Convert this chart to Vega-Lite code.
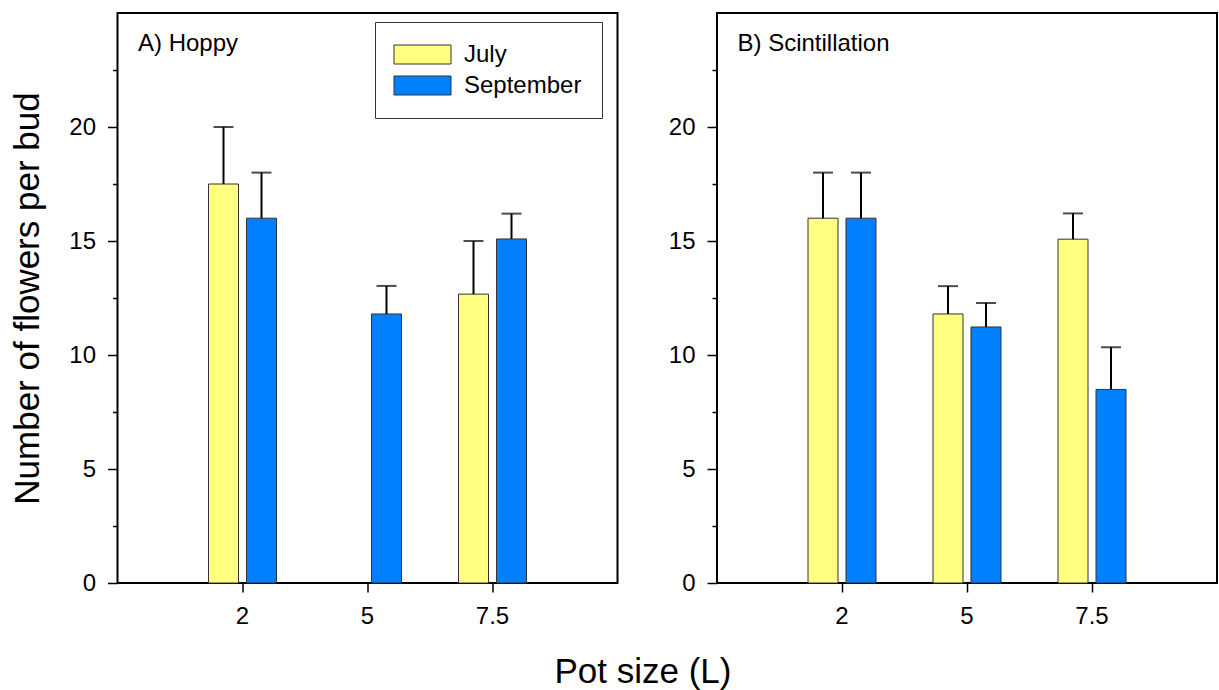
{
  "$schema": "https://vega.github.io/schema/vega-lite/v6.json",
  "background": "white",
  "padding": {"left": 9.5, "top": 12, "right": 3, "bottom": 5},
  "data": {"values": [
    {"cultivar": "Hoppy", "pot": "2", "month": "July", "value": 17.5, "upper": 20.0},
    {"cultivar": "Hoppy", "pot": "2", "month": "September", "value": 16.0, "upper": 18.0},
    {"cultivar": "Hoppy", "pot": "5", "month": "September", "value": 11.8, "upper": 13.03},
    {"cultivar": "Hoppy", "pot": "7.5", "month": "July", "value": 12.67, "upper": 15.0},
    {"cultivar": "Hoppy", "pot": "7.5", "month": "September", "value": 15.09, "upper": 16.2},
    {"cultivar": "Scintillation", "pot": "2", "month": "July", "value": 16.0, "upper": 18.0},
    {"cultivar": "Scintillation", "pot": "2", "month": "September", "value": 16.0, "upper": 18.0},
    {"cultivar": "Scintillation", "pot": "5", "month": "July", "value": 11.8, "upper": 13.02},
    {"cultivar": "Scintillation", "pot": "5", "month": "September", "value": 11.23, "upper": 12.28},
    {"cultivar": "Scintillation", "pot": "7.5", "month": "July", "value": 15.08, "upper": 16.21},
    {"cultivar": "Scintillation", "pot": "7.5", "month": "September", "value": 8.49, "upper": 10.34}
  ]},
  "bounds": "flush",
  "spacing": 99.5,
  "resolve": {"legend": {"color": "independent"}},
  "title": {"text": "Pot size (L)", "orient": "bottom", "anchor": "middle", "fontSize": 35, "fontWeight": "normal", "color": "black", "offset": 26, "dx": 29},
  "hconcat": [
    {
      "width": 500,
      "height": 570,
      "title": {"text": "A) Hoppy", "anchor": "start", "frame": "group", "orient": "top", "offset": 0, "dx": 20.5, "dy": 62, "baseline": "alphabetic", "fontSize": 24, "fontWeight": "normal", "color": "black"},
      "transform": [{"filter": "datum.cultivar === 'Hoppy'"}],
      "resolve": {"axis": {"y": "independent"}},
      "encoding": {
        "x": {"field": "pot", "type": "nominal", "sort": ["2", "5", "7.5"], "title": null,
              "scale": {"paddingInner": 0.456, "paddingOuter": 0.728},
              "axis": {"labelAngle": 0, "labelFontSize": 24, "labelColor": "black", "tickSize": 9, "tickWidth": 1.5, "tickColor": "black", "domain": false, "labelPadding": 12}},
        "xOffset": {"field": "month", "type": "nominal", "sort": ["July", "September"], "scale": {"paddingInner": 0.2105, "paddingOuter": 0}}
      },
      "layer": [
        {
          "mark": {"type": "bar", "stroke": "#333333", "strokeWidth": 1},
          "encoding": {
            "y": {"field": "value", "type": "quantitative", "scale": {"domain": [0, 25], "nice": false},
                  "title": "Number of flowers per bud",
                  "axis": {"orient": "left", "values": [0, 5, 10, 15, 20], "tickSize": 10,
                           "tickWidth": 1.5, "tickColor": "black", "grid": false, "domain": false, "labelFontSize": 24, "labelColor": "black", "labelPadding": 12,
                           "titleFontSize": 35, "titleFontWeight": "normal", "titleColor": "black", "titlePadding": 23}},
            "color": {"field": "month", "type": "nominal", "scale": {"domain": ["July", "September"], "range": ["#FFFF80", "#0080FF"]},
                      "legend": {"title": null, "orient": "none", "legendX": 257.5, "legendY": 9, "padding": 20.5, "strokeColor": "#333333", "fillColor": "white",
                                 "symbolType": "M-3,-1H3V1H-3Z", "symbolSize": 361, "symbolOffset": 15, "symbolStrokeColor": "#333333", "symbolStrokeWidth": 1,
                                 "labelFontSize": 24, "labelColor": "black", "labelOffset": 29.5, "rowPadding": 7}}
          }
        },
        {
          "mark": {"type": "rule", "strokeWidth": 2, "color": "black"},
          "encoding": {"y": {"field": "value", "type": "quantitative", "axis": {"orient": "left", "values": [2.5, 7.5, 12.5, 17.5, 22.5], "labels": false, "tickSize": 5, "tickWidth": 1.5, "tickColor": "black", "grid": false, "domain": false, "title": null}}, "y2": {"field": "upper"}}
        },
        {
          "mark": {"type": "tick", "orient": "horizontal", "size": 20, "thickness": 2, "color": "black"},
          "encoding": {"y": {"field": "upper", "type": "quantitative", "axis": null}}
        }
      ]
    },
    {
      "width": 500,
      "height": 570,
      "title": {"text": "B) Scintillation", "anchor": "start", "frame": "group", "orient": "top", "offset": 0, "dx": 20.5, "dy": 62, "baseline": "alphabetic", "fontSize": 24, "fontWeight": "normal", "color": "black"},
      "transform": [{"filter": "datum.cultivar === 'Scintillation'"}],
      "resolve": {"axis": {"y": "independent"}},
      "encoding": {
        "x": {"field": "pot", "type": "nominal", "sort": ["2", "5", "7.5"], "title": null,
              "scale": {"paddingInner": 0.456, "paddingOuter": 0.728},
              "axis": {"labelAngle": 0, "labelFontSize": 24, "labelColor": "black", "tickSize": 9, "tickWidth": 1.5, "tickColor": "black", "domain": false, "labelPadding": 12}},
        "xOffset": {"field": "month", "type": "nominal", "sort": ["July", "September"], "scale": {"paddingInner": 0.2105, "paddingOuter": 0}}
      },
      "layer": [
        {
          "mark": {"type": "bar", "stroke": "#333333", "strokeWidth": 1},
          "encoding": {
            "y": {"field": "value", "type": "quantitative", "scale": {"domain": [0, 25], "nice": false},
                  "title": null,
                  "axis": {"orient": "left", "values": [0, 5, 10, 15, 20], "tickSize": 10,
                           "tickWidth": 1.5, "tickColor": "black", "grid": false, "domain": false, "labelFontSize": 24, "labelColor": "black", "labelPadding": 12}},
            "color": {"field": "month", "type": "nominal", "scale": {"domain": ["July", "September"], "range": ["#FFFF80", "#0080FF"]}, "legend": null}
          }
        },
        {
          "mark": {"type": "rule", "strokeWidth": 2, "color": "black"},
          "encoding": {"y": {"field": "value", "type": "quantitative", "axis": {"orient": "left", "values": [2.5, 7.5, 12.5, 17.5, 22.5], "labels": false, "tickSize": 5, "tickWidth": 1.5, "tickColor": "black", "grid": false, "domain": false, "title": null}}, "y2": {"field": "upper"}}
        },
        {
          "mark": {"type": "tick", "orient": "horizontal", "size": 20, "thickness": 2, "color": "black"},
          "encoding": {"y": {"field": "upper", "type": "quantitative", "axis": null}}
        }
      ]
    }
  ],
  "config": {
    "font": "Liberation Sans",
    "view": {"stroke": "black", "strokeWidth": 2}
  }
}
